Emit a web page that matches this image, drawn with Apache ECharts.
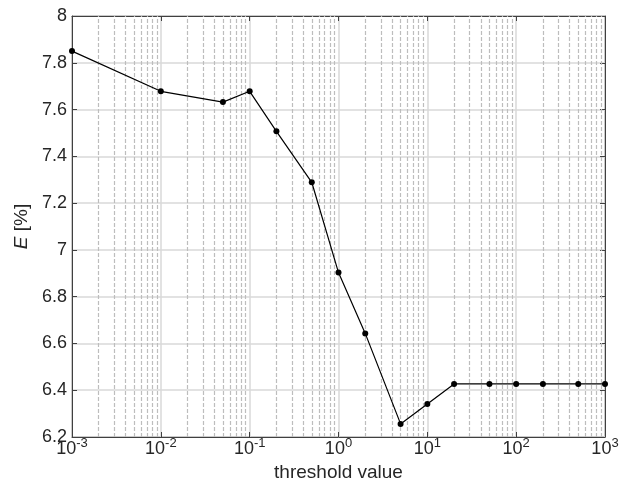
<!DOCTYPE html>
<html>
<head>
<meta charset="utf-8">
<script src="https://cdn.jsdelivr.net/npm/echarts@6/dist/echarts.min.js"></script>
<style>
  html, body { margin: 0; padding: 0; background: #fff; }
  #chart { width: 621px; height: 480px; }
</style>
</head>
<body>
<div id="chart"></div>
<script>
// threshold values (x) and error E in % (y)
const thresholds = [0.001, 0.01, 0.05, 0.1, 0.2, 0.5, 1, 2, 5, 10, 20, 50, 100, 200, 500, 1000];
const errors = [7.85, 7.678, 7.632, 7.678, 7.507, 7.289, 6.903, 6.643, 6.256, 6.341, 6.427, 6.427, 6.427, 6.427, 6.427, 6.427];
const decades = [0.001, 0.01, 0.1, 1, 10, 100];
const yMin = 6.2, yMax = 8;

// minor log grid positions 2..9 within each decade
const minorLines = [];
decades.forEach(d => {
  for (let k = 2; k <= 9; k++) {
    const x = +(d * k).toPrecision(6);
    minorLines.push([{ coord: [x, yMin] }, { coord: [x, yMax] }]);
  }
});

const chart = echarts.init(document.getElementById('chart'));
const font = 'Liberation Sans, Arial, sans-serif';
const ink = '#262626';
const axisCol = '#404040';

const xBase = {
  type: 'log',
  logBase: 10,
  min: 0.001,
  max: 1000,
  splitNumber: 6
};

chart.setOption({
  animation: false,
  grid: {
    left: 72, right: 16, top: 16, bottom: 43,
    outerBoundsMode: 'none',
    containLabel: false,
    show: true,
    borderColor: axisCol,
    borderWidth: 1
  },
  xAxis: [Object.assign({}, xBase, {
    name: 'threshold value',
    nameLocation: 'middle',
    nameGap: 15,
    nameTextStyle: { fontFamily: font, fontSize: 19, color: ink },
    axisLine: { lineStyle: { color: axisCol } },
    axisTick: { inside: true, length: 5, lineStyle: { color: axisCol } },
    axisLabel: {
      margin: 0,
      fontFamily: font,
      color: ink,
      formatter: v => '{b|10}{s|' + Math.round(Math.log10(v)) + '}',
      rich: {
        b: { fontSize: 18, fontFamily: font, color: ink, verticalAlign: 'bottom' },
        s: { fontSize: 13, fontFamily: font, color: ink, verticalAlign: 'top', padding: [0, 0, 8, 0] }
      }
    },
    splitLine: { show: true, lineStyle: { color: '#d9d9d9', width: 1.5 } }
  }), Object.assign({}, xBase, {
    position: 'top',
    axisLine: { show: true, lineStyle: { color: axisCol } },
    axisTick: { show: true, inside: true, length: 5, lineStyle: { color: axisCol } },
    axisLabel: { show: false },
    splitLine: { show: false }
  })],
  yAxis: [{
    type: 'value',
    min: yMin,
    max: yMax,
    interval: 0.2,
    name: '{i|E} [%]',
    nameLocation: 'middle',
    nameGap: 39,
    nameRotate: 90,
    nameTextStyle: {
      fontFamily: font, fontSize: 19, color: ink,
      rich: { i: { fontStyle: 'italic', fontFamily: font, fontSize: 19, color: ink } }
    },
    axisLine: { show: true, lineStyle: { color: axisCol } },
    axisTick: { show: true, inside: true, length: 5, lineStyle: { color: axisCol } },
    axisLabel: { fontFamily: font, fontSize: 18, color: ink, margin: 5 },
    splitLine: { show: true, lineStyle: { color: '#d9d9d9', width: 1.5 } }
  }, {
    type: 'value',
    position: 'right',
    min: yMin,
    max: yMax,
    interval: 0.2,
    axisLine: { show: true, lineStyle: { color: axisCol } },
    axisTick: { show: true, inside: true, length: 5, lineStyle: { color: axisCol } },
    axisLabel: { show: false },
    splitLine: { show: false }
  }],
  series: [{
    type: 'line',
    data: thresholds.map((t, i) => [t, errors[i]]),
    symbol: 'circle',
    symbolSize: 6,
    itemStyle: { color: '#000' },
    lineStyle: { color: '#000', width: 1.2 },
    z: 10,
    markLine: {
      silent: true,
      symbol: 'none',
      label: { show: false },
      lineStyle: { color: '#bdbdbd', type: [4, 2], width: 1.2 },
      data: minorLines,
      z: 1
    }
  }]
});
</script>
</body>
</html>
